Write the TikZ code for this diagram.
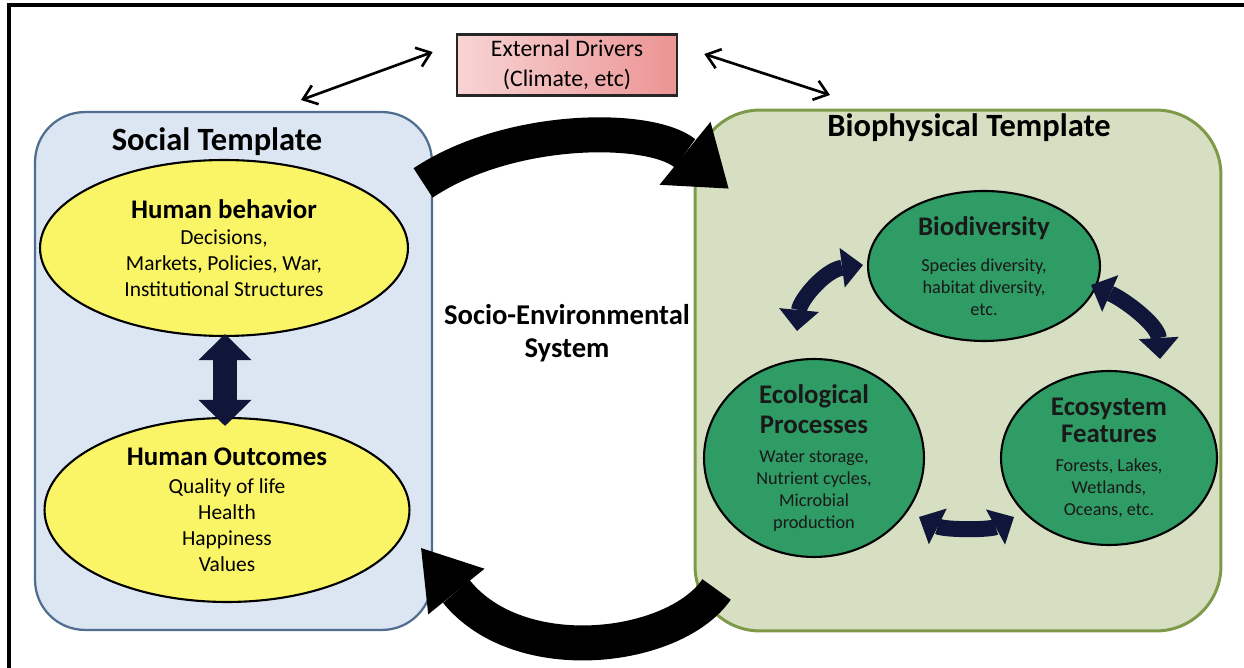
\documentclass[tikz,border=0pt]{standalone}
\usepackage{fontspec}
\setmainfont{Carlito}
\usepackage{xcolor}
\usetikzlibrary{arrows.meta,shapes.geometric,calc}

\definecolor{socfill}{HTML}{DCE6F2}
\definecolor{socline}{HTML}{4F6E8F}
\definecolor{biofill}{HTML}{D7DFC3}
\definecolor{bioline}{HTML}{7E9A48}
\definecolor{humyellow}{HTML}{FAF566}
\definecolor{ecogreen}{HTML}{2F9B65}
\definecolor{pinklight}{HTML}{F8D4D4}
\definecolor{pinkdeep}{HTML}{EC9494}
\definecolor{navyblack}{HTML}{10163A}

\newcommand{\tpltxt}{\fontsize{18.5}{22}\bfseries\selectfont}
\newcommand{\hdtxt}{\fontsize{15.3}{18}\bfseries\selectfont}
\newcommand{\ecotxt}{\fontsize{15.3}{17}\bfseries\selectfont}

\begin{document}
\begin{tikzpicture}[x=0.02cm,y=-0.02cm,
  human/.style={ellipse,draw=black,line width=1.2pt,fill=humyellow,inner sep=0pt,align=center,font=\fontsize{12.2}{14.8}\selectfont},
  eco/.style={ellipse,draw=black,line width=1.2pt,fill=ecogreen,inner sep=-8pt,align=center,text=black!90,font=\fontsize{10.4}{12.5}\selectfont},
  thinarrow/.style={line width=1.5pt,{Straight Barb[length=0.26cm,width=0.4cm]}-{Straight Barb[length=0.26cm,width=0.4cm]}},
  fatarrow/.style={line width=0.32cm,draw=navyblack,{Triangle[width=0.8cm,length=0.42cm,line width=0pt]}-{Triangle[width=0.8cm,length=0.42cm,line width=0pt]}},
  vertarrow/.style={line width=0.48cm,draw=navyblack,{Triangle[width=1.06cm,length=0.52cm,line width=0pt]}-{Triangle[width=1.06cm,length=0.52cm,line width=0pt]}},
  bigarrow/.style={line width=0.7cm,draw=black,-{Triangle[width=#1,length=1.12cm,line width=0pt]}}]

\useasboundingbox (0,0) rectangle (1244,668);
\clip (0,0) rectangle (1244,668);
\draw[line width=0.08cm] (9,5) rectangle (1300,720);

% templates
\node[draw=socline,fill=socfill,line width=0.045cm,rounded corners=1cm,minimum width=7.94cm,minimum height=10.36cm] (social) at (233.5,371) {};
\node[draw=bioline,fill=biofill,line width=0.06cm,rounded corners=1.3cm,minimum width=10.52cm,minimum height=10.42cm] (bio) at (958,370.5) {};
\node[font=\tpltxt] (soctitle) at (217,142) {Social Template};
\node[font=\tpltxt] (biotitle) at (969,128) {Biophysical Template};

\node[draw=black!85,line width=1.5pt,left color=pinklight,right color=pinkdeep,minimum width=4.4cm,minimum height=1.16cm,align=center,font=\fontsize{13.5}{17}\selectfont] (ext) at (567,65) {External Drivers\\(Climate, etc)};
\node[align=center,font=\fontsize{16.3}{19}\bfseries\selectfont] (ses) at (567,333) {Socio-Environmental\\System};

% social side
\node[human,minimum width=7.36cm,minimum height=3.52cm] (behav) at (224,248) {\hdtxt Human behavior\\Decisions,\\Markets, Policies, War,\\Institutional Structures};
\node[human,minimum width=7.3cm,minimum height=3.68cm] (outc) at (227,510) {\hdtxt Human Outcomes\\[1pt]Quality of life\\Health\\Happiness\\Values};

% biophysical side
\node[eco,minimum width=4.64cm,minimum height=3.0cm] (biodiv) at (984,266) {\ecotxt Biodiversity\\[8pt]Species diversity,\\habitat diversity,\\etc.};
\node[eco,minimum width=4.4cm,minimum height=3.96cm] (proc) at (814,458) {\ecotxt Ecological\\[4pt]\ecotxt Processes\\[4pt]Water storage,\\Nutrient cycles,\\Microbial\\production};
\node[eco,minimum width=4.32cm,minimum height=3.48cm] (feat) at (1109,458) {\ecotxt Ecosystem\\[3pt]\ecotxt Features\\[4pt]Forests, Lakes,\\Wetlands,\\Oceans, etc.};

% connectors
\draw[thinarrow] (301,100) coordinate (sdrv) -- ([shift={(-23,-13)}]ext.west);
\draw[thinarrow] ([shift={(26,-11)}]ext.east) -- (830,95) coordinate (bdrv);
\draw[vertarrow] ([shift={(1,-3)}]behav.south) -- ([shift={(-2,9)}]outc.north);
\draw[fatarrow] ([shift={(-17,-27)}]proc.north) .. controls (800,300) and (825,270) .. ([shift={(-4,-1)}]biodiv.west);
\draw[fatarrow] ([shift={(-10,19)}]biodiv.east) .. controls (1125,300) and (1158,325) .. ([shift={(51,-11)}]feat.north);
\draw[fatarrow] ([shift={(-6,59)}]proc.east) .. controls (945,530) and (990,530) .. ([shift={(14,59)}]feat.west);
\draw[bigarrow=1.62cm] ([shift={(-10,72)}]social.north east) .. controls (510,125) and (650,125) .. ([shift={(35,80)}]bio.north west);
\draw[bigarrow=1.45cm] ([shift={(23,-43)}]bio.south west) .. controls (675,650) and (520,670) .. ([shift={(-12,-83)}]social.south east);
\end{tikzpicture}
\end{document}
